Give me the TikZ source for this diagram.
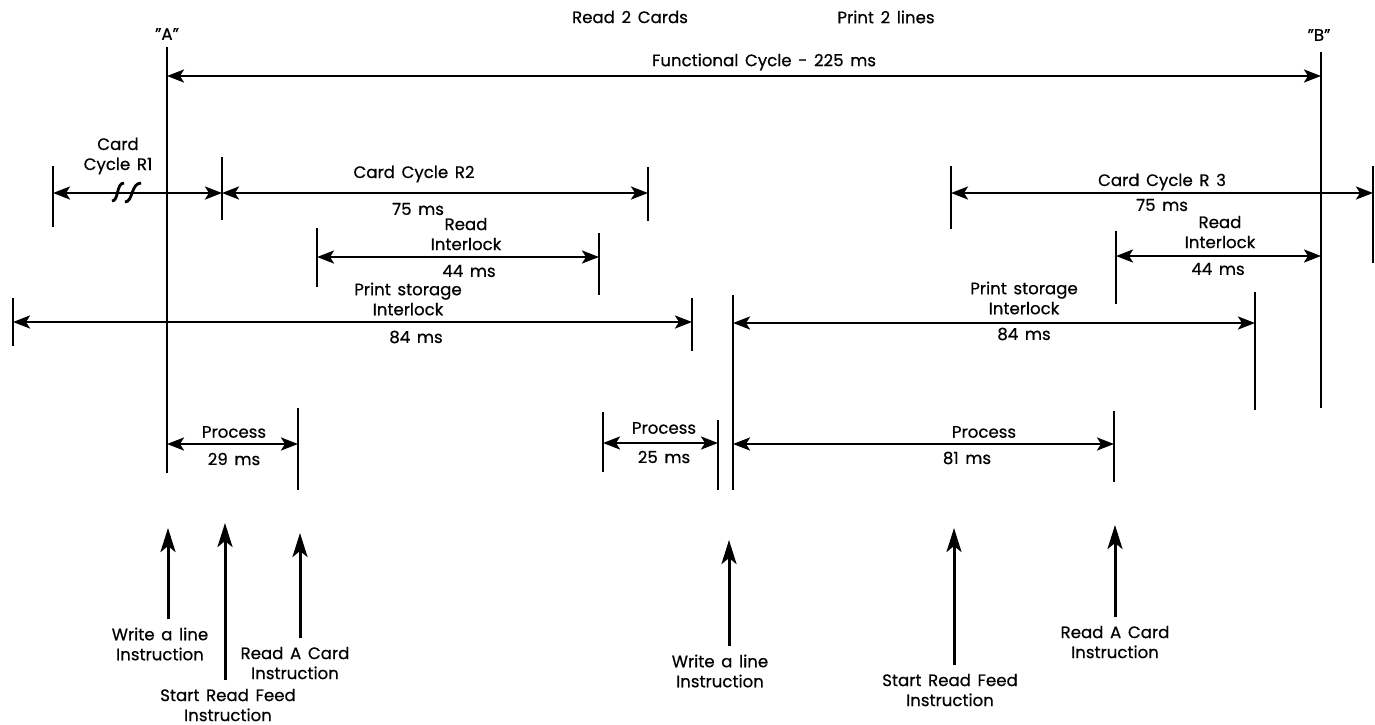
\documentclass[tikz,border=0pt]{standalone}
\usepackage{fontspec}
\setmainfont{Poppins}[WordSpace=1.5, FakeBold=0.5]
\usetikzlibrary{arrows.meta}
\tikzset{
  tick/.style={line width=1.3pt},
  span/.style={line width=1.3pt,
    {Stealth[length=8.5pt,width=6.5pt,inset=2pt]}-{Stealth[length=8.5pt,width=6.5pt,inset=2pt]}},
  cue/.style={line width=1.5pt, -{Stealth[length=12pt,width=7.5pt,inset=3pt]}, shorten <=4pt},
  lbl/.style={font=\fontsize{8.3}{10}\selectfont, align=center, inner sep=0pt},
}

\begin{document}
\begin{tikzpicture}[x=0.5pt,y=-0.5pt]
\useasboundingbox (0,0) rectangle (1375,724);

% span end points
\coordinate (fcL) at (167,76);
\coordinate (fcR) at (1321,76);
\coordinate (r1L) at (53,193);
\coordinate (r2L) at (222,193);
\coordinate (r2R) at (648,193);
\coordinate (ri2L) at (317,257);
\coordinate (ri2R) at (599,257);
\coordinate (ps1L) at (13,322);
\coordinate (ps1R) at (692,322);
\coordinate (p29L) at (167,444);
\coordinate (p29R) at (298,444);
\coordinate (p25L) at (603,443);
\coordinate (p25R) at (718,443);
\coordinate (ps2L) at (733,323);
\coordinate (ps2R) at (1255,323);
\coordinate (p81L) at (733,444);
\coordinate (p81R) at (1114,444);
\coordinate (r3L) at (951,193);
\coordinate (r3R) at (1373,193);
\coordinate (ri3L) at (1116,256);
\coordinate (ri3R) at (1321,256);

% headings
\node[lbl] (cards) at (630,17) {Read 2 Cards};
\node[lbl] (lines) at (886,17) {Print 2 lines};
\node[lbl] (markA) at (167,34) {"A"};
\node[lbl] (markB) at (1319,35) {"B"};

% time marks
\draw[tick] (167,47) -- (167,473);
\draw[tick] (1321,52) -- (1321,408);
\draw[tick] (53,166) -- (53,227);
\draw[tick] (222,157) -- (222,220);
\draw[tick] (648,167) -- (648,221);
\draw[tick] (317,228) -- (317,287);
\draw[tick] (599,233) -- (599,295);
\draw[tick] (13,298) -- (13,346);
\draw[tick] (692,298) -- (692,351);
\draw[tick] (298,408) -- (298,490);
\draw[tick] (603,412) -- (603,472);
\draw[tick] (718,420) -- (718,490);
\draw[tick] (733,295) -- (733,490);
\draw[tick] (951,166) -- (951,229);
\draw[tick] (1373,166) -- (1373,263);
\draw[tick] (1116,231) -- (1116,304);
\draw[tick] (1255,292) -- (1255,410);
\draw[tick] (1114,411) -- (1114,482);

% functional cycle
\draw[span] (fcL) -- (fcR);
\node[lbl] (fc) at (764,62) {Functional Cycle - 225 ms};

% card cycles
\draw[span] (r1L) -- (r2L);
\draw[line width=1.4pt] (112,201) .. controls (119,201) and (116,183) .. (124,183);
\draw[line width=1.4pt] (125,202) .. controls (133,202) and (131,183) .. (141,183);
\node[lbl] (r1) at (118,156) {Card\\Cycle R1};
\draw[span] (r2L) -- (r2R);
\node[lbl] (r2) at (414,174) {Card Cycle R2};
\node[lbl] (r2t) at (418,209) {75 ms};
\draw[span] (r3L) -- (r3R);
\node[lbl] (r3) at (1162,182) {Card Cycle R 3};
\node[lbl] (r3t) at (1162,205) {75 ms};

% read interlocks
\draw[span] (ri2L) -- (ri2R);
\node[lbl] (ri2) at (466,234) {Read\\Interlock};
\node[lbl] (ri2t) at (469,271) {44 ms};
\draw[span] (ri3L) -- (ri3R);
\node[lbl] (ri3) at (1220,232) {Read\\Interlock};
\node[lbl] (ri3t) at (1218,269) {44 ms};

% print storage interlocks
\draw[span] (ps1L) -- (ps1R);
\node[lbl] (ps1) at (408,299) {Print storage\\Interlock};
\node[lbl] (ps1t) at (416,337) {84 ms};
\draw[span] (ps2L) -- (ps2R);
\node[lbl] (ps2) at (1024,298) {Print storage\\Interlock};
\node[lbl] (ps2t) at (1024,334) {84 ms};

% process times
\draw[span] (p29L) -- (p29R);
\node[lbl] (p29) at (234,432) {Process};
\node[lbl] (p29t) at (234,459) {29 ms};
\draw[span] (p25L) -- (p25R);
\node[lbl] (p25) at (664,428) {Process};
\node[lbl] (p25t) at (664,457) {25 ms};
\draw[span] (p81L) -- (p81R);
\node[lbl] (p81) at (984,432) {Process};
\node[lbl] (p81t) at (967,458) {81 ms};

% instructions
\coordinate (wl1) at (168,528);
\coordinate (sf1) at (225,523);
\coordinate (rc1) at (300,533);
\coordinate (wl2) at (729,540);
\coordinate (sf2) at (954,528);
\coordinate (rc2) at (1115,525);
\node[lbl] (wl1txt) at (160,644) {Write a line\\Instruction};
\node[lbl] (sf1txt) at (228,705) {Start Read Feed\\Instruction};
\node[lbl] (rc1txt) at (295,663) {Read A Card\\Instruction};
\node[lbl] (wl2txt) at (720,671) {Write a line\\Instruction};
\node[lbl] (sf2txt) at (950,690) {Start Read Feed\\Instruction};
\node[lbl] (rc2txt) at (1115,642) {Read A Card\\Instruction};
\draw[cue] (wl1 |- wl1txt.north) -- (wl1);
\draw[cue] (sf1 |- sf1txt.north) -- (sf1);
\draw[cue] (rc1 |- rc1txt.north) -- (rc1);
\draw[cue] (wl2 |- wl2txt.north) -- (wl2);
\draw[cue] (sf2 |- sf2txt.north) -- (sf2);
\draw[cue] (rc2 |- rc2txt.north) -- (rc2);
\end{tikzpicture}
\end{document}
